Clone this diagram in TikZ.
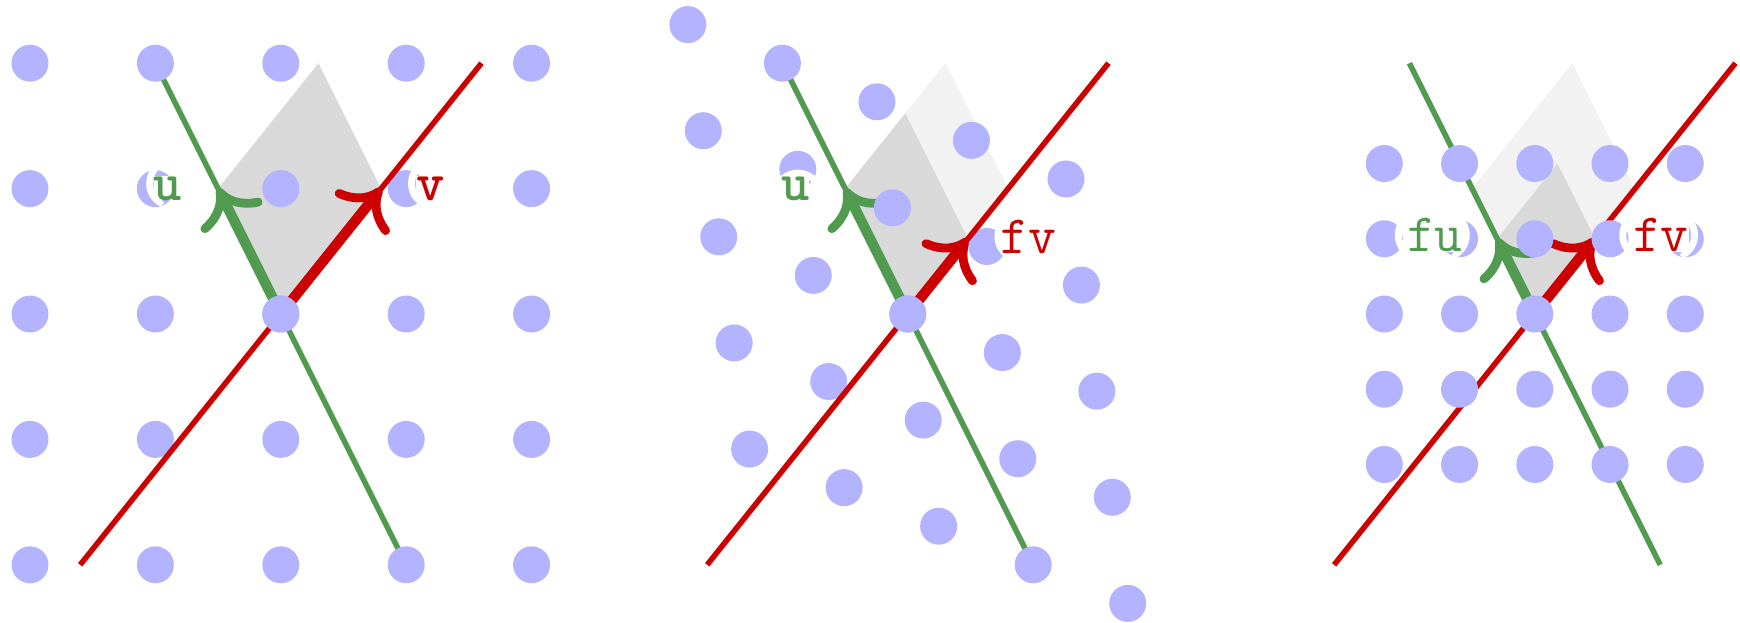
\documentclass[tikz,border=0pt]{standalone}
\usepackage{fontspec}
\usetikzlibrary{arrows.meta}
\newfontfamily\prnfont{lmmono10-regular.otf}[FakeBold=6]
\definecolor{ugreen}{RGB}{80,155,80}
\definecolor{vred}{RGB}{204,0,0}
\definecolor{latc}{RGB}{179,179,255}
\definecolor{pgdark}{RGB}{217,217,217}
\definecolor{pglight}{RGB}{242,242,242}
\newcommand{\lfont}{\fontsize{24.5}{24.5}\selectfont\ttfamily}
\tikzset{
  lat/.style = {fill=latc},
  pgd/.style = {fill=pgdark},
  pgl/.style = {fill=pglight},
  uln/.style = {draw=ugreen, line width=2.5pt},
  vln/.style = {draw=vred,   line width=2.5pt},
  vec/.style = {line width=4.7pt,
                -{Computer Modern Rightarrow[length=15.6pt, width=31pt, line width=4pt, round]}},
  lbl/.style = {font=\lfont, inner sep=0pt, fill=white},
  lbb/.style = {lbl, font=\lfont\bfseries},
  prn/.style = {font=\fontsize{24.5}{24.5}\selectfont\prnfont, inner sep=0pt, text=white},
}

\begin{document}
\begin{tikzpicture}[x=2cm, y=2cm]

  \useasboundingbox (-2.2392,-2.464) rectangle (11.6364,2.504);

  % ===== left: the lattice as it is =====================================
  \coordinate (o1)  at ( 0.0, 0.0);
  \coordinate (u1)  at (-0.5, 1.0);
  \coordinate (v1)  at ( 0.8, 1.0);
  \coordinate (uv1) at ( 0.3, 2.0);
  \coordinate (ua1) at (-1.0, 2.0);
  \coordinate (ub1) at ( 1.0,-2.0);
  \coordinate (va1) at (-1.6,-2.0);
  \coordinate (vb1) at ( 1.6, 2.0);

  \fill[pgd] (o1) -- (u1) -- (uv1) -- (v1) -- cycle;
  \draw[uln] (ua1) -- (ub1);
  \foreach \i in {-2,...,2}
    \foreach \j in {-2,...,2}
      \fill[lat] (\i,\j) circle[radius=0.1475];
  \draw[vln] (va1) -- (vb1);
  \draw[vec, ugreen] (o1) -- (u1);
  \draw[vec, vred]   (o1) -- (v1);
  \fill[lat] (o1) circle[radius=0.1475];

  \node[prn, anchor=base]       (pu1) at (-1.022,0.909) {(};
  \node[prn, anchor=base]       (pv1) at ( 1.066,0.909) {(};
  \node[lbb, anchor=base east, text=ugreen] (lu1) at (-0.784,0.909) {u};
  \node[lbb, anchor=base west, text=vred]   (lv1) at ( 1.076,0.909) {v};

  % ===== middle: f shrinks v only =======================================
  \coordinate (o2)   at (5.00, 0.0);
  \coordinate (u2)   at (4.50, 1.0);
  \coordinate (v2)   at (5.80, 1.0);
  \coordinate (uv2)  at (5.30, 2.0);
  \coordinate (fv2)  at (5.48, 0.6);
  \coordinate (ufv2) at (4.98, 1.6);
  \coordinate (ua2)  at (4.00, 2.0);
  \coordinate (ub2)  at (6.00,-2.0);
  \coordinate (va2)  at (3.40,-2.0);
  \coordinate (vb2)  at (6.60, 2.0);

  \fill[pgl] (o2) -- (u2) -- (uv2) -- (v2) -- cycle;
  \fill[pgd] (o2) -- (u2) -- (ufv2) -- (fv2) -- cycle;
  \draw[uln] (ua2) -- (ub2);
  \draw[vec, ugreen] (o2) -- (u2);
  \draw[vec, vred]   (o2) -- (fv2);
  \foreach \i in {-2,...,2}
    \foreach \j in {-2,...,2}
      \fill[lat] ({5+0.753846*\i-0.123077*\j},{-0.307692*\i+0.846154*\j})
                 circle[radius=0.1475];
  \draw[vln] (va2) -- (vb2);
  \fill[lat] (o2) circle[radius=0.1475];

  \node[prn, rotate=-90]        (pu2)  at (4.123,1.100) {(};
  \node[prn, anchor=base]       (pfv2) at (5.742,0.486) {(};
  \node[lbb, anchor=base east, text=ugreen] (lu2)  at (4.219,0.909) {u};
  \node[lbl, anchor=base west, text=vred]   (lfv2) at (5.734,0.486) {fv};

  % ===== right: f shrinks everything ====================================
  \coordinate (o3)   at (10.00, 0.0);
  \coordinate (u3)   at ( 9.50, 1.0);
  \coordinate (v3)   at (10.80, 1.0);
  \coordinate (uv3)  at (10.30, 2.0);
  \coordinate (fu3)  at ( 9.70, 0.6);
  \coordinate (fv3)  at (10.48, 0.6);
  \coordinate (fuv3) at (10.18, 1.2);
  \coordinate (ua3)  at ( 9.00, 2.0);
  \coordinate (ub3)  at (11.00,-2.0);
  \coordinate (va3)  at ( 8.40,-2.0);
  \coordinate (vb3)  at (11.60, 2.0);

  \fill[pgl] (o3) -- (u3) -- (uv3) -- (v3) -- cycle;
  \fill[pgd] (o3) -- (fu3) -- (fuv3) -- (fv3) -- cycle;
  \draw[uln] (ua3) -- (ub3);
  \draw[vln] (va3) -- (vb3);
  \draw[vec, ugreen] (o3) -- (fu3);
  \draw[vec, vred]   (o3) -- (fv3);
  \foreach \i in {-2,...,2}
    \foreach \j in {-2,...,2}
      \fill[lat] ({10+0.6*\i},{0.6*\j}) circle[radius=0.1475];

  \node[prn, anchor=base]       (pfu3a) at ( 8.935,0.497) {(};
  \node[prn, anchor=base]       (pfu3b) at ( 9.430,0.497) {)};
  \node[prn, anchor=base]       (pfv3a) at (10.725,0.497) {(};
  \node[prn, anchor=base]       (pfv3b) at (11.250,0.497) {)};
  \node[lbl, anchor=base east, text=ugreen] (lfu3) at ( 9.429,0.497) {fu};
  \node[lbl, anchor=base west, text=vred]   (lfv3) at (10.781,0.497) {fv};

\end{tikzpicture}
\end{document}
